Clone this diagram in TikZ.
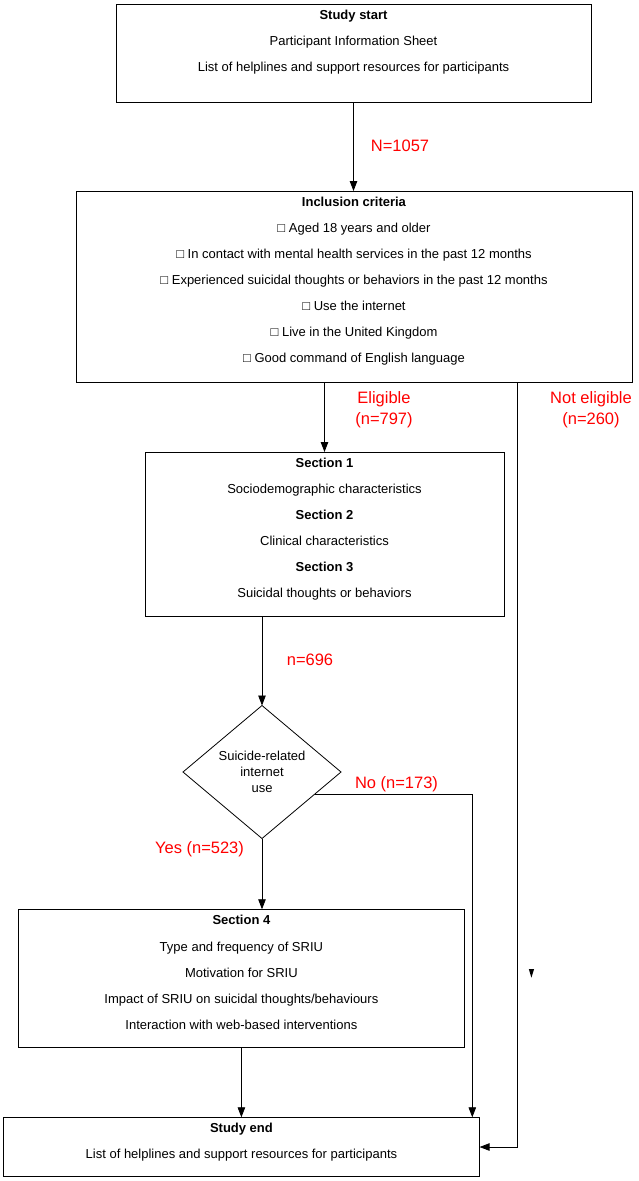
\documentclass[tikz,border=0pt]{standalone}
\usepackage{fontspec}
\setmainfont{Liberation Sans}
\usetikzlibrary{arrows.meta,shapes.geometric,calc}
\definecolor{lbl}{RGB}{255,0,0}
\tikzset{
  box/.style={draw=black, line width=0.8pt, inner sep=0pt, outer sep=0pt, rectangle},
  txt/.style={inner sep=0pt, outer sep=0pt, align=center, font=\fontsize{13}{26.1}\selectfont},
  redlbl/.style={inner sep=0pt, outer sep=0pt, align=center, text=lbl, font=\fontsize{16.5}{21}\selectfont},
  arr/.style={draw=black, line width=0.8pt, -{Triangle[width=7.5pt,length=10pt]}},
  ln/.style={draw=black, line width=0.8pt},
}
\begin{document}
\begin{tikzpicture}[x=1pt,y=-1pt]
\useasboundingbox (0,0) rectangle (639,1181);
\fill[white] (0,0) rectangle (639,1181);

% boxes
\node[box, minimum width=475pt, minimum height=98pt, anchor=north west] (start) at (116,4) {};
\node[box, minimum width=556pt, minimum height=191pt, anchor=north west] (incl) at (76,191) {};
\node[box, minimum width=359pt, minimum height=164pt, anchor=north west] (sec1) at (145,452) {};
\node[box, minimum width=446.2pt, minimum height=138pt, anchor=north west] (sec4) at (18.3,909.3) {};
\node[box, minimum width=476.3pt, minimum height=59.4pt, anchor=north west] (end) at (3.3,1117.3) {};
\node[draw=black, line width=0.8pt, shape=diamond, aspect=1, inner sep=0pt, outer sep=0pt,
      minimum width=158pt, minimum height=133pt, align=center,
      font=\fontsize{13}{16}\selectfont] (dia) at (262,772) {Suicide-related\\internet\\use};

% box texts (base anchor = baseline of last line)
\node[txt, anchor=base] (startT) at ($(start.north)+(0,67.5)$)
  {\textbf{Study start}\\Participant Information Sheet\\List of helplines and support resources for participants};
\node[txt, anchor=base] (inclT) at ($(incl.north)+(0,171.6)$)
  {\textbf{Inclusion criteria}\\□ Aged 18 years and older\\□ In contact with mental health services in the past 12 months\\□ Experienced suicidal thoughts or behaviors in the past 12 months\\□ Use the internet\\□ Live in the United Kingdom\\□ Good command of English language};
\node[txt, anchor=base] (sec1T) at ($(sec1.north)+(0,145.5)$)
  {\textbf{Section 1}\\Sociodemographic characteristics\\\textbf{Section 2}\\Clinical characteristics\\\textbf{Section 3}\\Suicidal thoughts or behaviors};
\node[txt, anchor=base] (sec4T) at ($(sec4.north)+(0,120)$)
  {\textbf{Section 4}\\Type and frequency of SRIU\\Motivation for SRIU\\Impact of SRIU on suicidal thoughts/behaviours\\Interaction with web-based interventions};
\node[txt, anchor=base] (endT) at ($(end.north)+(0,41.6)$)
  {\textbf{Study end}\\List of helplines and support resources for participants};

% helper coordinates
\coordinate (ne) at (517.5,382);
\coordinate (nx) at (472.3,0);
\coordinate (nostart) at ($(dia.east)!0.333!(dia.south)$);

% connectors
\draw[arr] (start.south) -- (incl.north -| start.south);
\draw[arr] (incl.south -| sec1.north) -- (sec1.north);
\draw[arr] (ne) |- (end.east);
\draw[arr] (sec1.south -| dia.north) -- (dia.north);
\draw[arr] (dia.south) -- (dia.south |- sec4.north);
\draw[arr] (nostart) -| (nx |- end.north);
\draw[arr] (sec4.south) -- (end.north -| sec4.south);

% stray small arrowhead
\fill[black] (528.8,969) -- (534.1,969) -- (531.4,977.7) -- cycle;

% red labels
\node[redlbl] (lN) at (400,146) {N=1057};
\node[redlbl] (lEl) at (384,409.5) {Eligible\\(n=797)};
\node[redlbl] (lNe) at (591,409.5) {Not eligible\\(n=260)};
\node[redlbl] (l696) at (310,660) {n=696};
\node[redlbl] (lNo) at (396.5,784.5) {No (n=173)};
\node[redlbl] (lYes) at (199.5,849.5) {Yes (n=523)};
\end{tikzpicture}
\end{document}
